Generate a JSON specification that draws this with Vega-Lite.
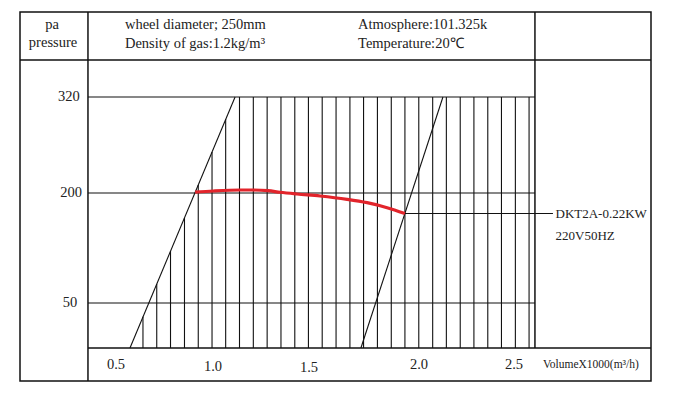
{
  "$schema": "https://vega.github.io/schema/vega-lite/v6.json",
  "autosize": {"type": "none"},
  "padding": {"left": 20, "top": 12, "right": 25, "bottom": 15},
  "width": 631,
  "height": 369,
  "background": "white",
  "config": {
    "view": {"stroke": "#111", "strokeWidth": 1.5},
    "text": {"font": "Liberation Serif", "color": "#222"}
  },
  "datasets": {
    "table": [
      {"v": 0, "v2": 3.2, "p": 350, "p2": 350},
      {"v": 0.354, "v2": 0.354, "p": -30, "p2": 400},
      {"v": 2.607, "v2": 2.607, "p": 0, "p2": 400},
      {"v": 0.354, "v2": 3.2, "p": 0, "p2": 0}
    ],
    "grid": [
      {"v": 0.354, "v2": 2.607, "p": 320, "p2": 320},
      {"v": 0.354, "v2": 2.607, "p": 200, "p2": 200},
      {"v": 0.354, "v2": 2.607, "p": 50, "p2": 50},
      {"v": 0.639, "v2": 0.639, "p": 0, "p2": 34.6},
      {"v": 0.710, "v2": 0.710, "p": 0, "p2": 76.0},
      {"v": 0.781, "v2": 0.781, "p": 0, "p2": 121.0},
      {"v": 0.853, "v2": 0.853, "p": 0, "p2": 165.9},
      {"v": 0.924, "v2": 0.924, "p": 0, "p2": 210.0},
      {"v": 0.995, "v2": 0.995, "p": 0, "p2": 251.3},
      {"v": 1.066, "v2": 1.066, "p": 0, "p2": 292.1},
      {"v": 1.138, "v2": 1.138, "p": 0, "p2": 320},
      {"v": 1.210, "v2": 1.210, "p": 0, "p2": 320},
      {"v": 1.282, "v2": 1.282, "p": 0, "p2": 320},
      {"v": 1.354, "v2": 1.354, "p": 0, "p2": 320},
      {"v": 1.426, "v2": 1.426, "p": 0, "p2": 320},
      {"v": 1.497, "v2": 1.497, "p": 0, "p2": 320},
      {"v": 1.560, "v2": 1.560, "p": 0, "p2": 320},
      {"v": 1.623, "v2": 1.623, "p": 0, "p2": 320},
      {"v": 1.686, "v2": 1.686, "p": 0, "p2": 320},
      {"v": 1.748, "v2": 1.748, "p": 0, "p2": 320},
      {"v": 1.811, "v2": 1.811, "p": 0, "p2": 320},
      {"v": 1.874, "v2": 1.874, "p": 0, "p2": 320},
      {"v": 1.936, "v2": 1.936, "p": 0, "p2": 320},
      {"v": 1.999, "v2": 1.999, "p": 0, "p2": 320},
      {"v": 2.072, "v2": 2.072, "p": 0, "p2": 320},
      {"v": 2.144, "v2": 2.144, "p": 0, "p2": 320},
      {"v": 2.217, "v2": 2.217, "p": 0, "p2": 320},
      {"v": 2.289, "v2": 2.289, "p": 0, "p2": 320},
      {"v": 2.362, "v2": 2.362, "p": 0, "p2": 320},
      {"v": 2.434, "v2": 2.434, "p": 0, "p2": 320},
      {"v": 2.507, "v2": 2.507, "p": 0, "p2": 320},
      {"v": 2.577, "v2": 2.577, "p": 0, "p2": 320},
      {"v": 0.572, "v2": 1.115, "p": 0, "p2": 320},
      {"v": 1.736, "v2": 2.126, "p": 0, "p2": 320},
      {"v": 1.936, "v2": 2.699, "p": 172, "p2": 172}
    ],
    "curve": [
      {"v": 0.908, "p": 201.0},
      {"v": 1.002, "p": 202.5},
      {"v": 1.141, "p": 203.75},
      {"v": 1.208, "p": 203.75},
      {"v": 1.286, "p": 202.9},
      {"v": 1.349, "p": 200.9},
      {"v": 1.4375, "p": 198.6},
      {"v": 1.55, "p": 195.9},
      {"v": 1.673, "p": 191.4},
      {"v": 1.764, "p": 186.8},
      {"v": 1.855, "p": 180.0},
      {"v": 1.936, "p": 172.0}
    ],
    "textLeft": [
      {"v": 0.546, "p": 386.5, "text": "wheel diameter; 250mm"},
      {"v": 0.546, "p": 367, "text": "Density of gas:1.2kg/m³"},
      {"v": 1.723, "p": 386.5, "text": "Atmosphere:101.325k"},
      {"v": 1.723, "p": 367, "text": "Temperature:20℃"}
    ],
    "model": [
      {"v": 2.712, "p": 172, "text": "DKT2A-0.22KW"},
      {"v": 2.712, "p": 141.4, "text": "220V50HZ"}
    ],
    "textCenter": [
      {"v": 0.167, "p": 386.5, "text": "pa"},
      {"v": 0.172, "p": 368, "text": "pressure"},
      {"v": 0.255, "p": 320, "text": "320"},
      {"v": 0.266, "p": 200, "text": "200"},
      {"v": 0.260, "p": 50, "text": "50"},
      {"v": 0.5, "p": -15.5, "text": "0.5"},
      {"v": 1.0, "p": -17.3, "text": "1.0"},
      {"v": 1.5, "p": -18.2, "text": "1.5"},
      {"v": 2.0, "p": -15.5, "text": "2.0"},
      {"v": 2.5, "p": -15.5, "text": "2.5"}
    ],
    "unitLabel": [
      {"v": 2.648, "p": -15.5, "text": "VolumeX1000(m³/h)"}
    ]
  },
  "encoding": {
    "x": {
      "field": "v",
      "type": "quantitative",
      "axis": null,
      "scale": {"domain": [0, 0.5, 1.0, 1.5, 2.0, 2.5, 3.2], "range": [0, 96, 193, 289, 399, 494, 631], "nice": false, "zero": false}
    },
    "y": {
      "field": "p",
      "type": "quantitative",
      "axis": null,
      "scale": {"domain": [-30, 0, 50, 200, 320, 350, 400], "range": [369, 336, 291, 181, 85, 48, 0], "nice": false, "zero": false}
    }
  },
  "layer": [
    {
      "data": {"name": "table"},
      "mark": {"type": "rule", "color": "#111", "strokeWidth": 1.5},
      "encoding": {"x2": {"field": "v2"}, "y2": {"field": "p2"}}
    },
    {
      "data": {"name": "grid"},
      "mark": {"type": "rule", "color": "#111", "strokeWidth": 1.1},
      "encoding": {"x2": {"field": "v2"}, "y2": {"field": "p2"}}
    },
    {
      "data": {"name": "curve"},
      "mark": {"type": "line", "color": "#e2242b", "strokeWidth": 3.2, "interpolate": "monotone"},
      "encoding": {}
    },
    {
      "data": {"name": "textLeft"},
      "mark": {"type": "text", "align": "left", "baseline": "middle", "fontSize": 14.5},
      "encoding": {"text": {"field": "text"}}
    },
    {
      "data": {"name": "model"},
      "mark": {"type": "text", "align": "left", "baseline": "middle", "fontSize": 13},
      "encoding": {"text": {"field": "text"}}
    },
    {
      "data": {"name": "textCenter"},
      "mark": {"type": "text", "align": "center", "baseline": "middle", "fontSize": 14.5},
      "encoding": {"text": {"field": "text"}}
    },
    {
      "data": {"name": "unitLabel"},
      "mark": {"type": "text", "align": "left", "baseline": "middle", "fontSize": 11.5},
      "encoding": {"text": {"field": "text"}}
    }
  ]
}
